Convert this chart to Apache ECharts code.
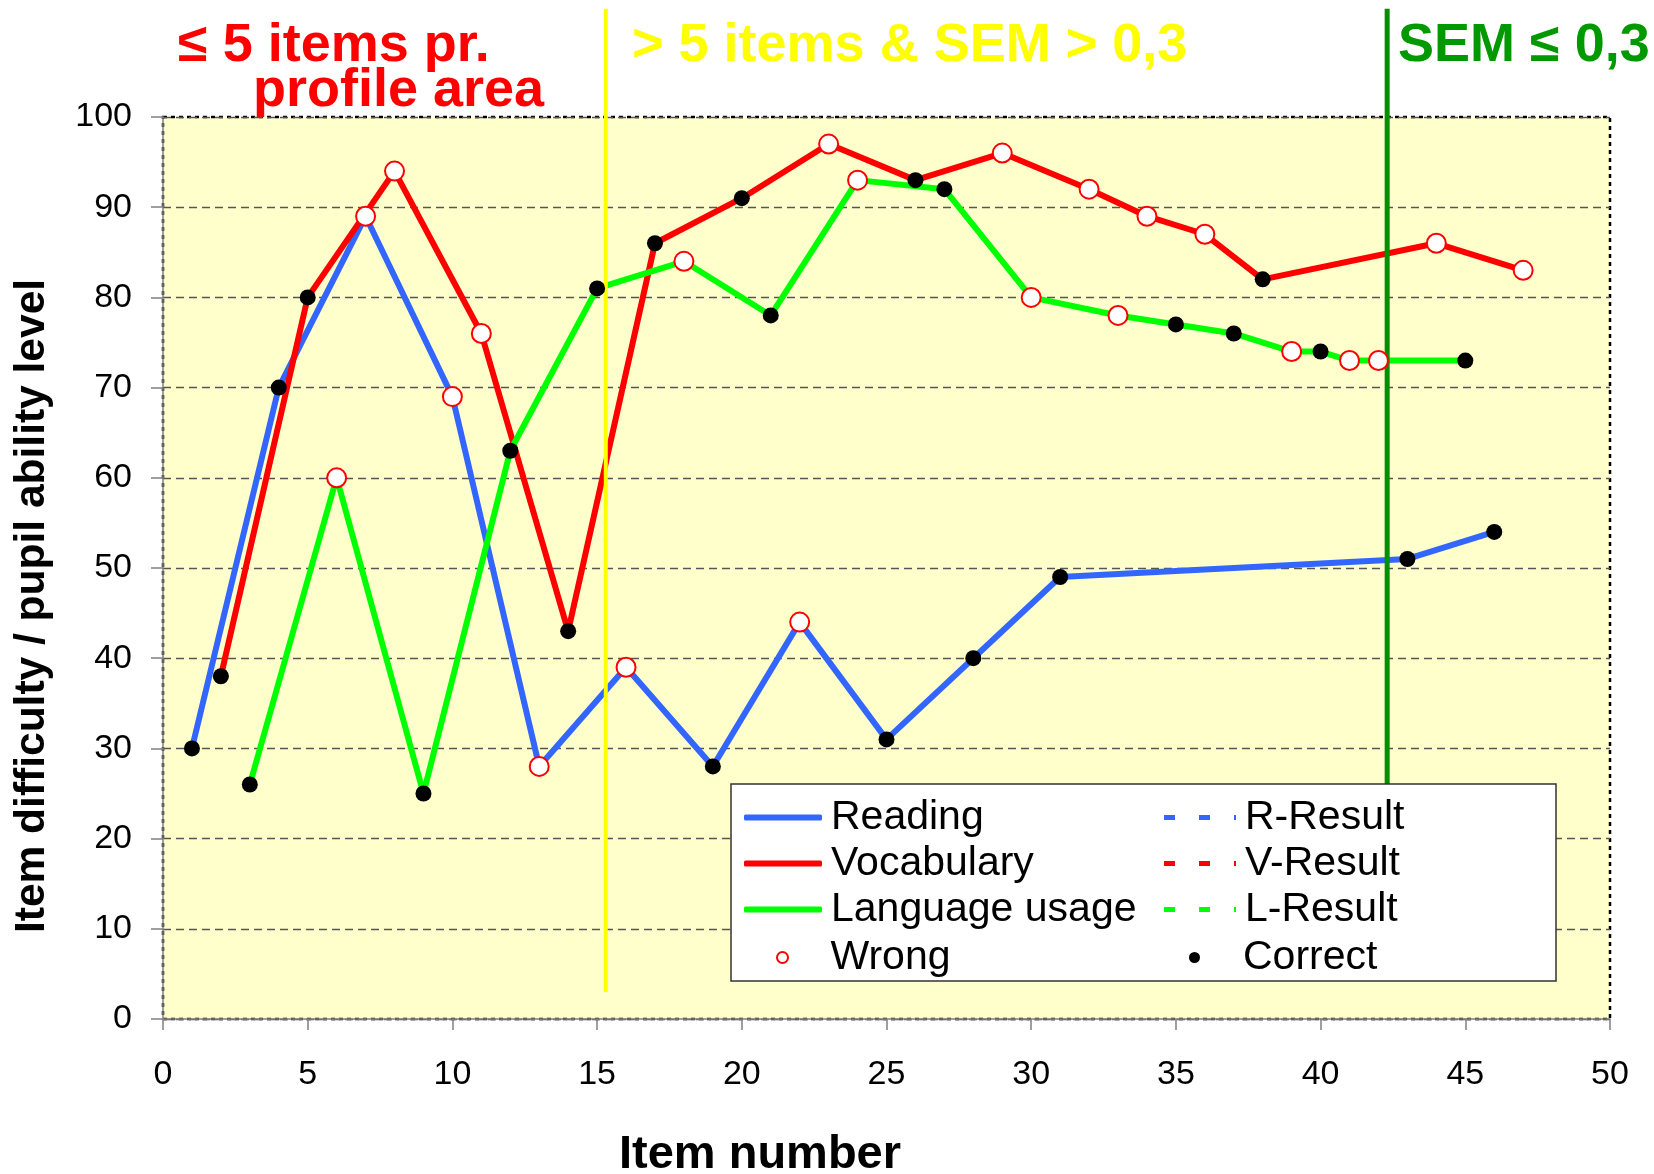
<!DOCTYPE html>
<html>
<head>
<meta charset="utf-8">
<title>Item difficulty / pupil ability level</title>
<script src="https://cdn.jsdelivr.net/npm/echarts@6/dist/echarts.min.js"></script>
<style>
    html, body { margin: 0; padding: 0; background: #fff; }
    #chart { width: 1654px; height: 1174px; }
</style>
</head>
<body>
<div id="chart"></div>
<script>
// item number / level / correct (1) or wrong (0), per profile area
const readingItems = [1, 4, 7, 10, 13, 16, 19, 22, 25, 28, 31, 43, 46];
const readingValues = [30, 70, 89, 69, 28, 39, 28, 44, 31, 40, 49, 51, 54];
const readingCorrect = [1, 1, 0, 0, 0, 0, 1, 0, 1, 1, 1, 1, 1];

const vocabularyItems = [2, 5, 8, 11, 14, 17, 20, 23, 26, 29, 32, 34, 36, 38, 44, 47];
const vocabularyValues = [38, 80, 94, 76, 43, 86, 91, 97, 93, 96, 92, 89, 87, 82, 86, 83];
const vocabularyCorrect = [1, 1, 0, 0, 1, 1, 1, 0, 1, 0, 0, 0, 0, 1, 0, 0];

const languageItems = [3, 6, 9, 12, 15, 18, 21, 24, 27, 30, 33, 35, 37, 39, 40, 41, 42, 45];
const languageValues = [26, 60, 25, 63, 81, 84, 78, 93, 92, 80, 78, 77, 76, 74, 74, 73, 73, 73];
const languageCorrect = [1, 0, 1, 1, 1, 0, 1, 0, 1, 0, 0, 1, 1, 0, 1, 0, 0, 1];

// zone boundaries (item number) and their vertical extent (level)
const yellowLineX = 15.3;
const yellowLineY = [3, 112];
const greenLineX = 42.3;
const greenLineY = [26, 112];

const FONT = "'Liberation Sans', Arial, sans-serif";

const pairs = (items, values) => items.map((x, i) => [x, values[i]]);
const marks = (items, values, flags, want) =>
    items.map((x, i) => [x, values[i], flags[i]]).filter(d => d[2] === want).map(d => [d[0], d[1]]);

const allSets = [
    [readingItems, readingValues, readingCorrect],
    [vocabularyItems, vocabularyValues, vocabularyCorrect],
    [languageItems, languageValues, languageCorrect],
];
const wrongData = allSets.flatMap(s => marks(s[0], s[1], s[2], 0));
const correctData = allSets.flatMap(s => marks(s[0], s[1], s[2], 1));

const dashIcon = 'path://M0,0h11v5h-11z M35,0h11v5h-11z M70,0h2v5h-2z';

const chart = echarts.init(document.getElementById('chart'));

const lineSeries = (name, color, data) => ({
    name: name,
    type: 'line',
    data: data,
    symbol: 'none',
    color: color,
    lineStyle: { width: 6, color: color },
    z: 3,
});

const legendText = { fontSize: 41, color: '#000', fontFamily: FONT, padding: [0, 0, 0, 4] };
const markerLegendText = { fontSize: 41, color: '#000', fontFamily: FONT, padding: [0, 0, 0, 18] };

const option = {
    animation: false,
    textStyle: { fontFamily: FONT },
    grid: {
        left: 163,
        right: 44,
        top: 117,
        bottom: 155,
        show: true,
        backgroundColor: '#FFFFCC',
        borderColor: '#000',
        borderWidth: 2.5,
        borderType: [4, 4],
    },
    xAxis: {
        type: 'value',
        min: 0,
        max: 50,
        interval: 5,
        axisLine: { show: true, lineStyle: { color: '#808080', width: 1.5 } },
        axisTick: { show: true, length: 11, lineStyle: { color: '#808080', width: 1.5 } },
        axisLabel: { fontSize: 34, color: '#000', margin: 39, fontFamily: FONT },
        splitLine: { show: false },
    },
    yAxis: {
        type: 'value',
        min: 0,
        max: 100,
        interval: 10,
        axisLine: { show: true, lineStyle: { color: '#808080', width: 1.5 } },
        axisTick: { show: true, length: 12, lineStyle: { color: '#808080', width: 1.5 } },
        axisLabel: { fontSize: 34, color: '#000', margin: 31, fontFamily: FONT },
        splitLine: { show: true, lineStyle: { color: '#555', width: 1.3, type: [8, 5] } },
    },
    legend: [
        {
            orient: 'vertical', left: 744, top: 797, padding: 0, itemGap: 5,
            itemWidth: 78, itemHeight: 6, selectedMode: false, z: 20,
            textStyle: legendText,
            data: [
                { name: 'Reading', icon: 'roundRect' },
                { name: 'Vocabulary', icon: 'roundRect' },
                { name: 'Language usage', icon: 'roundRect' },
            ],
        },
        {
            orient: 'vertical', left: 776, top: 937, padding: 0,
            itemWidth: 50, itemHeight: 11, selectedMode: false, z: 20,
            textStyle: markerLegendText,
            data: [{ name: 'Wrong', icon: 'circle' }],
        },
        {
            orient: 'vertical', left: 1164, top: 797, padding: 0, itemGap: 5,
            itemWidth: 72, itemHeight: 5, selectedMode: false, z: 20,
            textStyle: legendText,
            data: [
                { name: 'R-Result', icon: dashIcon },
                { name: 'V-Result', icon: dashIcon },
                { name: 'L-Result', icon: dashIcon },
            ],
        },
        {
            orient: 'vertical', left: 1189, top: 937, padding: 0,
            itemWidth: 51, itemHeight: 11, selectedMode: false, z: 20,
            textStyle: markerLegendText,
            data: [{ name: 'Correct', icon: 'circle' }],
        },
    ],
    graphic: [
        {
            type: 'rect', z: 15,
            shape: { x: 731, y: 784, width: 825, height: 197 },
            style: { fill: '#fff', stroke: '#333', lineWidth: 1.5 },
        },
        {
            type: 'text', x: 178, y: 46,
            style: { text: '\u2264 5 items pr.', font: 'bold 54px ' + FONT, fill: '#FF0000', textAlign: 'left', textVerticalAlign: 'middle' },
        },
        {
            type: 'text', x: 253, y: 91,
            style: { text: 'profile area', font: 'bold 54px ' + FONT, fill: '#FF0000', textAlign: 'left', textVerticalAlign: 'middle' },
        },
        {
            type: 'text', x: 632, y: 46,
            style: { text: '> 5 items & SEM > 0,3', font: 'bold 54px ' + FONT, fill: '#FFFF00', textAlign: 'left', textVerticalAlign: 'middle' },
        },
        {
            type: 'text', x: 1398, y: 46,
            style: { text: 'SEM \u2264 0,3', font: 'bold 54px ' + FONT, fill: '#009900', textAlign: 'left', textVerticalAlign: 'middle' },
        },
        {
            type: 'text', x: 32, y: 606, rotation: Math.PI / 2,
            style: { text: 'Item difficulty / pupil ability level', font: 'bold 42.5px ' + FONT, fill: '#000', textAlign: 'center', textVerticalAlign: 'middle' },
        },
        {
            type: 'text', x: 760, y: 1155,
            style: { text: 'Item number', font: 'bold 47px ' + FONT, fill: '#000', textAlign: 'center', textVerticalAlign: 'middle' },
        },
    ],
    series: [
        lineSeries('Reading', '#3366FF', pairs(readingItems, readingValues)),
        lineSeries('Vocabulary', '#FF0000', pairs(vocabularyItems, vocabularyValues)),
        lineSeries('Language usage', '#00FF00', pairs(languageItems, languageValues)),
        // result lines only appear in the legend
        { name: 'R-Result', type: 'line', data: [], color: '#3366FF', lineStyle: { type: 'dashed' } },
        { name: 'V-Result', type: 'line', data: [], color: '#FF0000', lineStyle: { type: 'dashed' } },
        { name: 'L-Result', type: 'line', data: [], color: '#00FF00', lineStyle: { type: 'dashed' } },
        {
            name: 'yellowZone', type: 'line', clip: false, symbol: 'none', z: 4,
            data: [[yellowLineX, yellowLineY[0]], [yellowLineX, yellowLineY[1]]],
            lineStyle: { color: '#FFFF00', width: 4 },
        },
        {
            name: 'greenZone', type: 'line', clip: false, symbol: 'none', z: 4,
            data: [[greenLineX, greenLineY[0]], [greenLineX, greenLineY[1]]],
            lineStyle: { color: '#009000', width: 5 },
        },
        {
            name: 'Wrong', type: 'scatter', data: wrongData, symbolSize: 19, z: 5,
            itemStyle: { color: '#fff', borderColor: '#FF0000', borderWidth: 2, opacity: 1 },
        },
        {
            name: 'Correct', type: 'scatter', data: correctData, symbolSize: 16, z: 5,
            itemStyle: { color: '#000', opacity: 1 },
        },
    ],
};

chart.setOption(option);
</script>
</body>
</html>
